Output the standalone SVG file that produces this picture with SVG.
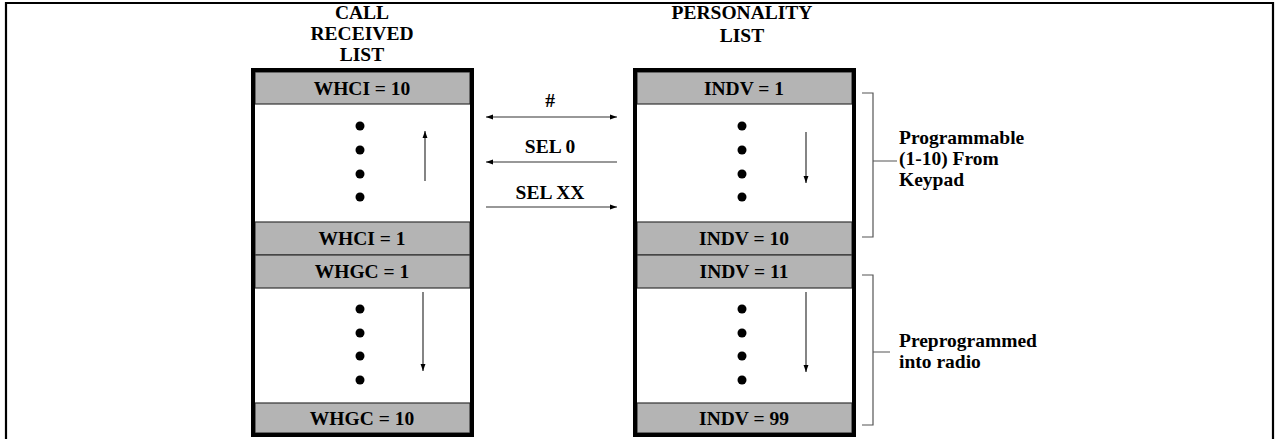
<svg xmlns="http://www.w3.org/2000/svg" width="1277" height="439" viewBox="0 0 1277 439">
<defs>
<marker id="ah" viewBox="0 0 10 10" refX="10" refY="5" markerWidth="7" markerHeight="7" markerUnits="userSpaceOnUse" orient="auto-start-reverse">
<path d="M0,1.5 L10,5 L0,8.5 Z" fill="#000"/>
</marker>
<style>
text{font-family:"Liberation Serif","Times New Roman",serif;font-weight:bold;font-size:19.5px;fill:#000}
.c{text-anchor:middle}
.row{fill:#b4b4b4;stroke:#333;stroke-width:1.2}
.box{fill:none;stroke:#000;stroke-width:4}
.dot{fill:#000}
.arr{stroke:#333;stroke-width:1.2;fill:none;marker-end:url(#ah)}
.dbl{stroke:#333;stroke-width:1.2;fill:none;marker-end:url(#ah);marker-start:url(#ah)}
.br{stroke:#555;stroke-width:1.2;fill:none}
</style>
</defs>
<rect width="1277" height="439" fill="#fff"/>
<path d="M6,439 V3 H1273 V439" fill="none" stroke="#000" stroke-width="2.2"/>

<g id="header-left">
<text class="c" x="362" y="19">CALL</text>
<text class="c" x="362" y="40">RECEIVED</text>
<text class="c" x="362" y="61">LIST</text>
</g>
<g id="header-right">
<text class="c" x="742" y="19">PERSONALITY</text>
<text class="c" x="742" y="42">LIST</text>
</g>

<g id="call-received-list">
<rect x="253" y="70" width="219" height="365" fill="#fff"/>
<rect class="row" x="255" y="72" width="215" height="32"/>
<rect class="row" x="255" y="222" width="215" height="33"/>
<rect class="row" x="255" y="255" width="215" height="33"/>
<rect class="row" x="255" y="403" width="215" height="30"/>
<text class="c" x="362" y="95">WHCI = 10</text>
<text class="c" x="362" y="245">WHCI = 1</text>
<text class="c" x="362" y="278">WHGC = 1</text>
<text class="c" x="362" y="425">WHGC = 10</text>
<circle class="dot" cx="360" cy="126" r="4.5"/>
<circle class="dot" cx="360" cy="150" r="4.5"/>
<circle class="dot" cx="360" cy="174" r="4.5"/>
<circle class="dot" cx="360" cy="197" r="4.5"/>
<circle class="dot" cx="360" cy="309" r="4.5"/>
<circle class="dot" cx="360" cy="333" r="4.5"/>
<circle class="dot" cx="360" cy="356" r="4.5"/>
<circle class="dot" cx="360" cy="380" r="4.5"/>
<path class="arr" d="M425,181 V131"/>
<path class="arr" d="M423,292 V371"/>
<rect class="box" x="253" y="70" width="219" height="365"/>
</g>

<g id="personality-list">
<rect x="635" y="70" width="219" height="365" fill="#fff"/>
<rect class="row" x="637" y="72" width="215" height="32"/>
<rect class="row" x="637" y="222" width="215" height="33"/>
<rect class="row" x="637" y="255" width="215" height="33"/>
<rect class="row" x="637" y="403" width="215" height="30"/>
<text class="c" x="744" y="95">INDV = 1</text>
<text class="c" x="744" y="245">INDV = 10</text>
<text class="c" x="744" y="278">INDV = 11</text>
<text class="c" x="744" y="425">INDV = 99</text>
<circle class="dot" cx="742" cy="126" r="4.5"/>
<circle class="dot" cx="742" cy="150" r="4.5"/>
<circle class="dot" cx="742" cy="174" r="4.5"/>
<circle class="dot" cx="742" cy="197" r="4.5"/>
<circle class="dot" cx="742" cy="309" r="4.5"/>
<circle class="dot" cx="742" cy="333" r="4.5"/>
<circle class="dot" cx="742" cy="356" r="4.5"/>
<circle class="dot" cx="742" cy="380" r="4.5"/>
<path class="arr" d="M806,132 V183"/>
<path class="arr" d="M806,292 V372"/>
<rect class="box" x="635" y="70" width="219" height="365"/>
</g>

<g id="connectors">
<path class="dbl" d="M486,117 H617"/>
<path class="arr" d="M617,162 H486"/>
<path class="arr" d="M486,207 H617"/>
<path class="br" d="M862,93 H873 V237 H862 M873,161 H897"/>
<path class="br" d="M862,275 H873 V425 H862 M873,352 H890"/>
</g>

<g id="labels">
<text class="c" x="550" y="107">#</text>
<text class="c" x="550" y="153">SEL 0</text>
<text class="c" x="550" y="199">SEL XX</text>
<text x="899" y="144">Programmable</text>
<text x="899" y="165">(1-10) From</text>
<text x="899" y="186">Keypad</text>
<text x="899" y="347">Preprogrammed</text>
<text x="899" y="368">into radio</text>
</g>
</svg>
